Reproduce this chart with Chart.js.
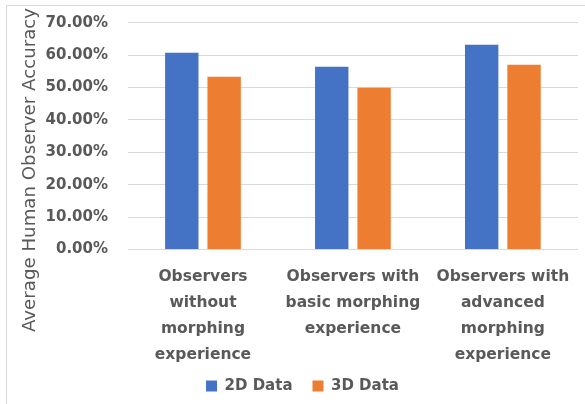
<!DOCTYPE html>
<html>
<head>
<meta charset="utf-8">
<script src="https://cdn.jsdelivr.net/npm/chart.js@4/dist/chart.umd.min.js"></script>
<style>
  html, body { margin: 0; padding: 0; background: #ffffff; }
  #wrap { width: 585px; height: 404px; }
</style>
</head>
<body>
<div id="wrap"><canvas id="c" width="585" height="404"></canvas></div>
<script>
const categories = [
  ["Observers", "without", "morphing", "experience"],
  ["Observers with", "basic morphing", "experience"],
  ["Observers with", "advanced", "morphing", "experience"]
];
const seriesNames = ["2D Data", "3D Data"];
const data2D = [60.7, 56.4, 63.2];
const data3D = [53.3, 49.9, 57.0];
const yTicks = [0, 10, 20, 30, 40, 50, 60, 70];
const yTitle = "Average Human Observer Accuracy";

const grey = "#595959";
const fam = "'DejaVu Sans', sans-serif";

const framePlugin = {
  id: 'framePlugin',
  beforeDraw(chart) {
    const ctx = chart.ctx;
    ctx.save();
    ctx.strokeStyle = '#d9d9d9';
    ctx.lineWidth = 1;
    ctx.strokeRect(6.5, 5.5, 640, 440);
    ctx.restore();
  }
};

const yTitlePlugin = {
  id: 'yTitlePlugin',
  afterDraw(chart) {
    const ctx = chart.ctx;
    ctx.save();
    ctx.translate(30, 170);
    ctx.rotate(-Math.PI / 2);
    ctx.font = "18.2px " + fam;
    ctx.fillStyle = grey;
    ctx.textAlign = 'center';
    ctx.textBaseline = 'middle';
    ctx.fillText(yTitle, 0, 0);
    ctx.restore();
  }
};

new Chart(document.getElementById('c'), {
  type: 'bar',
  data: {
    labels: categories,
    datasets: [
      { label: seriesNames[0], data: data2D, backgroundColor: '#4472C4',
        barPercentage: 0.788, categoryPercentage: 0.565 },
      { label: seriesNames[1], data: data3D, backgroundColor: '#ED7D31',
        barPercentage: 0.788, categoryPercentage: 0.565 }
    ]
  },
  options: {
    responsive: false,
    devicePixelRatio: 1,
    animation: false,
    layout: { padding: { left: 25, right: 5, top: 22.7, bottom: 0.5 } },
    plugins: {
      tooltip: { enabled: false },
      legend: {
        position: 'bottom',
        labels: {
          boxWidth: 11, boxHeight: 11, padding: 20,
          color: grey,
          font: { family: fam, size: 15, weight: 'bold' }
        }
      }
    },
    scales: {
      x: {
        grid: { display: false, drawTicks: false },
        border: { display: false },
        ticks: {
          color: grey,
          padding: 15,
          maxRotation: 0,
          autoSkip: false,
          font: { family: fam, size: 15.5, weight: 'bold', lineHeight: 1.66 }
        },
        afterFit(scale) {
          scale.height = 109;
          scale._computeLabelArea = () => null;
        }
      },
      y: {
        min: 0, max: 70,
        afterBuildTicks(scale) { scale.ticks = yTicks.map(v => ({ value: v })); },
        grid: { color: '#d9d9d9', lineWidth: 1, drawTicks: false },
        border: { display: false },
        ticks: {
          color: grey,
          padding: 20,
          font: { family: fam, size: 15, weight: 'bold' },
          callback: (v) => Number(v).toFixed(2) + '%'
        },
        afterFit(scale) {
          scale.width = 103;
          scale.paddingTop = 0;
          scale.paddingBottom = 0;
        }
      }
    }
  },
  plugins: [framePlugin, yTitlePlugin]
});
</script>
</body>
</html>
